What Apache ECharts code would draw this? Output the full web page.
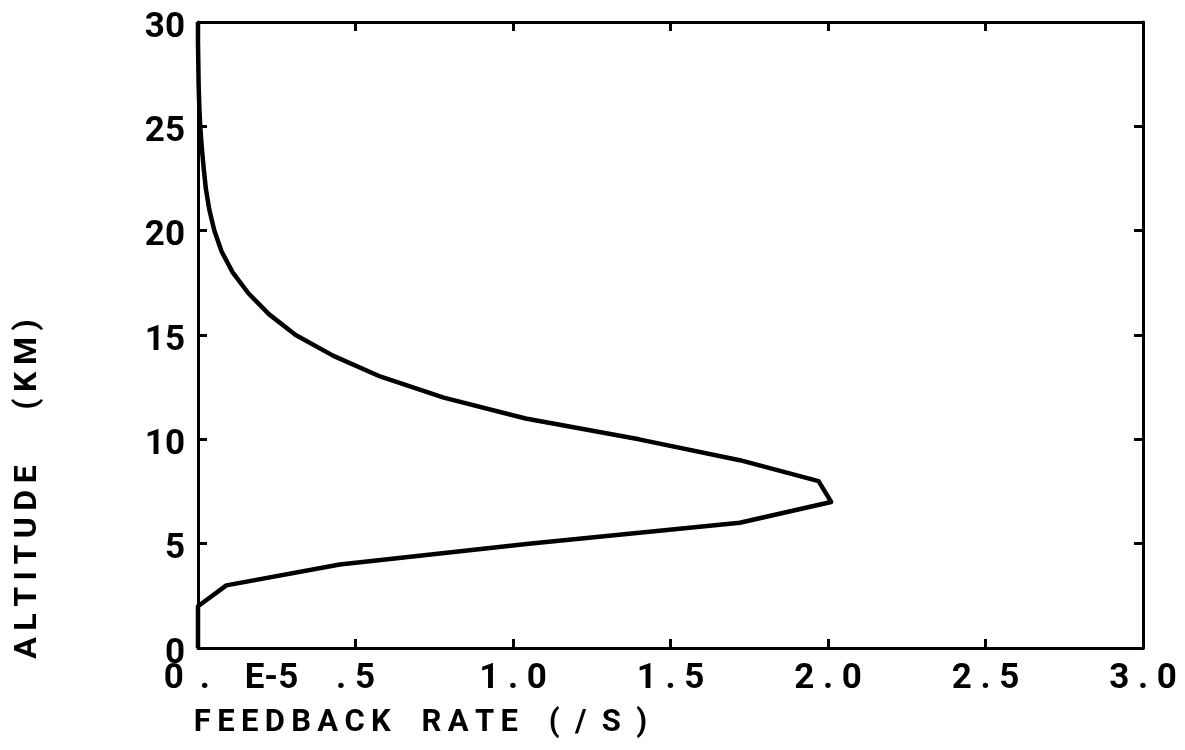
<!DOCTYPE html>
<html><head><meta charset="utf-8">
<script src="https://cdn.jsdelivr.net/npm/echarts@6/dist/echarts.min.js"></script>
<style>html,body{margin:0;padding:0;background:#fff}#c{width:1185px;height:750px}</style>
</head><body><div id="c"></div>
<script>
// Altitude (km) and feedback rate (1e-5 /s)
const altitudeKm = [0, 1, 2, 3, 4, 5, 6, 7, 8, 9, 10, 11, 12, 13, 14, 15, 16, 17, 18, 19, 20, 21, 22, 23, 24, 25, 26, 27, 28, 29, 30];
const feedbackRate = [0, 0, 0, 0.09, 0.45, 1.05, 1.72, 2.01, 1.97, 1.72, 1.40, 1.04, 0.78, 0.58, 0.43, 0.31, 0.225, 0.16, 0.11, 0.075, 0.052, 0.036, 0.025, 0.018, 0.012, 0.007, 0.004, 0.002, 0.001, 0, 0];
const T = '\u2009';
const xTickLabels = ['0 ' + T + '.    E-5', '. 5', '1 . 0', '1 . 5', '2 . 0', '2 . 5', '3 . 0'];
const yTickLabels = ['0', '5', '10', '15', '20', '25', '30'];
const xAxisTitle = 'F' + T + 'E' + T + 'E' + T + 'D' + T + 'B' + T + 'A' + T + 'C' + T + 'K    R' + T + 'A' + T + 'T' + T + 'E    (  /  S  )';
const yAxisTitle = 'A' + T + 'L' + T + 'T' + T + 'I' + T + 'T' + T + 'U' + T + 'D' + T + 'E       (' + T + 'K' + T + 'M' + T + ')';

const FONT = 'Roboto, "Liberation Sans", sans-serif';
const chart = echarts.init(document.getElementById('c'), null, {renderer: 'canvas'});
const lineW = 3;
const tickStyle = {show: true, inside: true, length: 9, lineStyle: {color: '#000', width: 3}};
const axisLine = {show: true, onZero: false, lineStyle: {color: '#000', width: lineW}};
const labelFont = {color: '#000', fontFamily: FONT, fontWeight: 'bold', fontSize: 35};

chart.setOption({
  animation: false,
  backgroundColor: '#fff',
  grid: {left: 198, right: 42, top: 22, bottom: 102, containLabel: false, outerBoundsMode: 'none'},
  xAxis: [{
    type: 'value', min: 0, max: 3, interval: 0.5, position: 'bottom',
    axisLine: axisLine, axisTick: tickStyle, splitLine: {show: false},
    axisLabel: Object.assign({}, labelFont, {
      margin: 14,
      formatter: function (v) {
        const i = Math.round(v / 0.5);
        if (i === 0) return '{z|' + xTickLabels[0] + '}';
        return xTickLabels[i];
      },
      rich: {z: Object.assign({}, labelFont, {padding: [0, 0, 0, 66]})}
    }),
    name: xAxisTitle, nameLocation: 'middle', nameGap: 60,
    nameTextStyle: {color: '#000', fontFamily: FONT, fontWeight: 'bold', fontSize: 31, padding: [0, 500, 0, 0]}
  }, {
    type: 'value', min: 0, max: 3, interval: 0.5, position: 'top',
    axisLine: axisLine, axisTick: tickStyle, splitLine: {show: false}, axisLabel: {show: false}
  }],
  yAxis: [{
    type: 'value', min: 0, max: 30, interval: 5, position: 'left',
    axisLine: axisLine, axisTick: tickStyle, splitLine: {show: false},
    axisLabel: Object.assign({}, labelFont, {
      margin: 13,
      formatter: function (v) { return '{y|' + yTickLabels[Math.round(v / 5)] + '}'; },
      rich: {y: Object.assign({}, labelFont, {padding: [12, 0, 0, 0]})}
    }),
    name: yAxisTitle, nameLocation: 'middle', nameGap: 154, nameRotate: 90,
    nameTextStyle: {color: '#000', fontFamily: FONT, fontWeight: 'bold', fontSize: 32, padding: [0, 308, 0, 0]}
  }, {
    type: 'value', min: 0, max: 30, interval: 5, position: 'right',
    axisLine: axisLine, axisTick: tickStyle, splitLine: {show: false}, axisLabel: {show: false}
  }],
  series: [{
    type: 'line',
    xAxisIndex: 0, yAxisIndex: 0,
    data: altitudeKm.map(function (a, i) { return [feedbackRate[i], a]; }),
    showSymbol: false, symbol: 'none', smooth: false,
    lineStyle: {color: '#000', width: 4.5, join: 'round'},
    z: 5
  }]
});
</script>
</body></html>
